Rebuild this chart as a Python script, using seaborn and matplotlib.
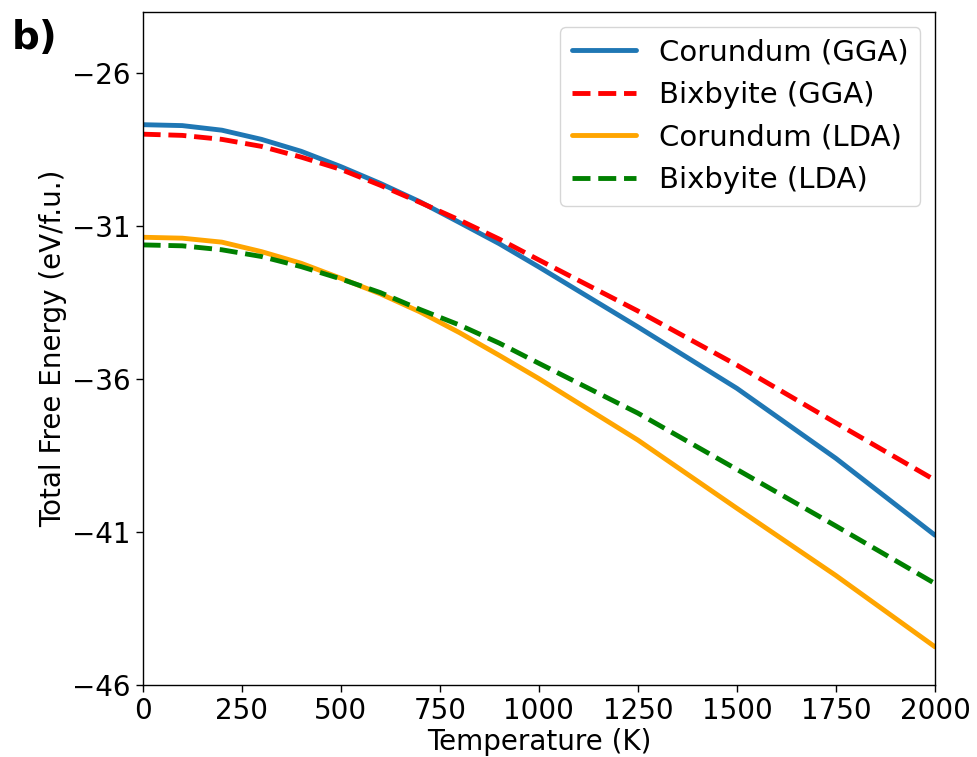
import numpy as np
import pandas as pd
import matplotlib
matplotlib.use("Agg")
import matplotlib.pyplot as plt
import seaborn as sns

# values
temperature = [0, 100, 200, 300, 400, 500, 600, 700, 800, 900, 1000, 1250, 1500, 1750, 2000]
corundum_gga = [-27.68, -27.71, -27.86, -28.16, -28.55, -29.05, -29.60, -30.20, -30.88, -31.57, -32.33,
                -34.29, -36.30, -38.59, -41.10]
bixbyite_gga = [-27.99, -28.03, -28.16, -28.39, -28.74, -29.14, -29.66, -30.22, -30.80, -31.42, -32.10,
                -33.77, -35.54, -37.43, -39.30]
corundum_lda = [-31.36, -31.39, -31.52, -31.83, -32.21, -32.70, -33.21, -33.80, -34.48, -35.22, -35.98,
                -37.99, -40.22, -42.42, -44.75]
bixbyite_lda = [-31.61, -31.64, -31.77, -31.99, -32.32, -32.72, -33.17, -33.72, -34.23, -34.82, -35.48,
                -37.11, -38.95, -40.80, -42.68]

series = [
    ("Corundum (GGA)", corundum_gga, "#1f77b4", "-"),
    ("Bixbyite (GGA)", bixbyite_gga, "red", "--"),
    ("Corundum (LDA)", corundum_lda, "orange", "-"),
    ("Bixbyite (LDA)", bixbyite_lda, "green", "--"),
]

sns.set_style("ticks")
plt.rcParams['font.family'] = ['DejaVu Sans']
plt.rcParams['text.color'] = 'black'
plt.rcParams['axes.labelcolor'] = 'black'
plt.rcParams['xtick.color'] = 'black'
plt.rcParams['ytick.color'] = 'black'

fig, ax = plt.subplots(figsize=(9.77, 7.57), dpi=100)
fig.subplots_adjust(left=0.146, right=0.957, top=0.984, bottom=0.095)

for name, vals, col, ls in series:
    sns.lineplot(x=temperature, y=vals, ax=ax, color=col, linestyle=ls,
                 linewidth=3.5, label=name)

ax.set_xlim(0, 2000)
ax.set_ylim(-46, -24)
ax.set_xticks(np.arange(0, 2001, 250))
ax.set_yticks([-46, -41, -36, -31, -26])
ax.tick_params(labelsize=20, length=5, width=1, color='black')
for s in ax.spines.values():
    s.set_color('black')
    s.set_linewidth(1)

ax.set_xlabel("Temperature (K)", fontsize=20, labelpad=2)
ax.set_ylabel("Total Free Energy (eV/f.u.)", fontsize=20)
ax.legend(loc="upper right", fontsize=21, handlelength=2.2)

fig.text(0.012, 0.935, "b)", fontsize=28, fontweight="bold")

fig.savefig("out.png", dpi=100)
